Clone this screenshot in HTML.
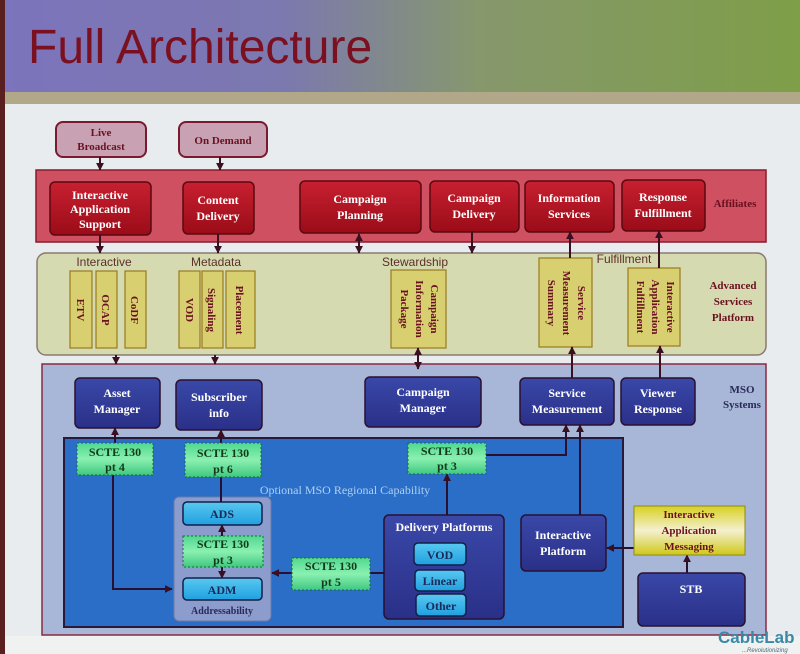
<!DOCTYPE html>
<html><head><meta charset="utf-8"><style>
html,body{margin:0;padding:0;width:800px;height:654px;overflow:hidden;background:#e6eaec}
svg{display:block}
.b{font-family:"Liberation Serif",serif;font-weight:bold;text-anchor:middle}
.s{font-family:"Liberation Sans",sans-serif}
</style></head><body>
<svg width="800" height="654" viewBox="0 0 800 654" xmlns="http://www.w3.org/2000/svg">
<defs>
<linearGradient id="tg" x1="0" x2="1"><stop offset="0" stop-color="#7c74bc"/><stop offset="0.35" stop-color="#7c78b0"/><stop offset="0.6" stop-color="#86986c"/><stop offset="1" stop-color="#7e9e48"/></linearGradient>
<linearGradient id="rb" x1="0" y1="0" x2="0" y2="1"><stop offset="0" stop-color="#c82030"/><stop offset="1" stop-color="#9a0c18"/></linearGradient>
<linearGradient id="bb" x1="0" y1="0" x2="0" y2="1"><stop offset="0" stop-color="#3a48a8"/><stop offset="1" stop-color="#2a3088"/></linearGradient>
<linearGradient id="gb" x1="0" y1="0" x2="0" y2="1"><stop offset="0" stop-color="#50d890"/><stop offset="0.5" stop-color="#8af0b0"/><stop offset="1" stop-color="#40c880"/></linearGradient>
<linearGradient id="cb" x1="0" y1="0" x2="0" y2="1"><stop offset="0" stop-color="#58c8f0"/><stop offset="1" stop-color="#20a0e0"/></linearGradient>
<linearGradient id="yb" x1="0" y1="0" x2="0" y2="1"><stop offset="0" stop-color="#d8d020"/><stop offset="0.5" stop-color="#f4f0d0"/><stop offset="1" stop-color="#d0c818"/></linearGradient>
<marker id="a" viewBox="0 0 10 10" refX="9" refY="5" markerWidth="4" markerHeight="4" orient="auto-start-reverse"><path d="M0,0L10,5L0,10z" fill="#3a1020"/></marker>
</defs>
<rect x="0" y="0" width="800" height="96" fill="url(#tg)"/>
<rect x="0" y="92" width="800" height="12" fill="#b0a888"/>
<rect x="0" y="0" width="5" height="654" fill="#5a2020"/>
<rect x="5" y="104" width="795" height="550" fill="#e8ecee"/>
<text x="28" y="63" class="s" font-size="48" fill="#7a1020">Full Architecture</text>

<rect x="56" y="122" width="90" height="35" rx="7" fill="#c8a2b2" stroke="#7a1a30" stroke-width="2"/>
<text class="b" font-size="11" fill="#6a1020"><tspan x="101" y="136">Live</tspan><tspan x="101" y="150">Broadcast</tspan></text>
<rect x="179" y="122" width="88" height="35" rx="7" fill="#c8a2b2" stroke="#7a1a30" stroke-width="2"/>
<text class="b" font-size="11" fill="#6a1020" x="223" y="144">On Demand</text>

<rect x="36" y="170" width="730" height="72" fill="#cf5060" stroke="#8a1a2a" stroke-width="1.5"/>
<g stroke="#5a0810" stroke-width="1.5" fill="url(#rb)">
<rect x="50" y="182" width="101" height="53" rx="5"/>
<rect x="183" y="182" width="71" height="52" rx="5"/>
<rect x="300" y="181" width="121" height="52" rx="5"/>
<rect x="430" y="181" width="89" height="51" rx="5"/>
<rect x="525" y="181" width="89" height="51" rx="5"/>
<rect x="622" y="180" width="83" height="51" rx="5"/>
</g>
<g class="b" font-size="12" fill="#fff">
<text><tspan x="100" y="199">Interactive</tspan><tspan x="100" y="213">Application</tspan><tspan x="100" y="228">Support</tspan></text>
<text><tspan x="218" y="204">Content</tspan><tspan x="218" y="220">Delivery</tspan></text>
<text><tspan x="360" y="203">Campaign</tspan><tspan x="360" y="219">Planning</tspan></text>
<text><tspan x="474" y="202">Campaign</tspan><tspan x="474" y="218">Delivery</tspan></text>
<text><tspan x="569" y="202">Information</tspan><tspan x="569" y="218">Services</tspan></text>
<text><tspan x="663" y="201">Response</tspan><tspan x="663" y="217">Fulfillment</tspan></text>
</g>
<text class="b" font-size="11" fill="#6a1020" x="735" y="207">Affiliates</text>

<rect x="37" y="253" width="729" height="102" rx="9" fill="#d6dab0" stroke="#8a7a70" stroke-width="1.5"/>
<g class="s" font-size="12" fill="#5a3028" text-anchor="middle">
<text x="104" y="266">Interactive</text><text x="216" y="266">Metadata</text>
<text x="415" y="266">Stewardship</text><text x="624" y="263">Fulfillment</text>
</g>
<g fill="#d8d070" stroke="#9a7a20" stroke-width="1.2">
<rect x="70" y="271" width="22" height="77"/><rect x="96" y="271" width="21" height="77"/><rect x="125" y="271" width="21" height="77"/>
<rect x="179" y="271" width="21" height="77"/><rect x="202" y="271" width="21" height="77"/><rect x="226" y="271" width="29" height="77"/>
<rect x="391" y="270" width="55" height="78"/><rect x="539" y="258" width="53" height="89"/><rect x="628" y="268" width="52" height="78"/>
</g>
<g class="b" font-size="11" fill="#6a1020">
<text transform="translate(81,310) rotate(90)" y="4">ETV</text>
<text transform="translate(106,310) rotate(90)" y="4">OCAP</text>
<text transform="translate(135,310) rotate(90)" y="4">CoDF</text>
<text transform="translate(190,310) rotate(90)" y="4">VOD</text>
<text transform="translate(212,310) rotate(90)" y="4">Signaling</text>
<text transform="translate(240,310) rotate(90)" y="4">Placement</text>
<text transform="translate(418,309) rotate(90)"><tspan x="0" y="-13">Campaign</tspan><tspan x="0" y="2">Information</tspan><tspan x="0" y="17">Package</tspan></text>
<text transform="translate(565,303) rotate(90)"><tspan x="0" y="-13">Service</tspan><tspan x="0" y="2">Measurement</tspan><tspan x="0" y="17">Summary</tspan></text>
<text transform="translate(654,307) rotate(90)"><tspan x="0" y="-13">Interactive</tspan><tspan x="0" y="2">Application</tspan><tspan x="0" y="17">Fulfillment</tspan></text>
</g>
<text class="b" font-size="11" fill="#6a1020"><tspan x="733" y="289">Advanced</tspan><tspan x="733" y="305">Services</tspan><tspan x="733" y="321">Platform</tspan></text>

<rect x="42" y="364" width="724" height="271" fill="#a8b6d8" stroke="#8a2a40" stroke-width="1.5"/>
<text class="b" font-size="11" fill="#2a2a5a"><tspan x="742" y="393">MSO</tspan><tspan x="742" y="408">Systems</tspan></text>
<rect x="64" y="438" width="559" height="189" fill="#2a6ec8" stroke="#2a1a3a" stroke-width="2"/>
<text x="345" y="494" font-family="Liberation Serif,serif" font-size="12" fill="#b0d0f0" text-anchor="middle">Optional MSO Regional Capability</text>

<g stroke="#2a1030" stroke-width="1.5" fill="url(#bb)">
<rect x="75" y="378" width="85" height="50" rx="5"/>
<rect x="176" y="380" width="86" height="50" rx="5"/>
<rect x="365" y="377" width="116" height="50" rx="5"/>
<rect x="520" y="378" width="94" height="47" rx="5"/>
<rect x="621" y="378" width="74" height="47" rx="5"/>
<rect x="384" y="515" width="120" height="104" rx="5"/>
<rect x="521" y="515" width="85" height="56" rx="5"/>
<rect x="638" y="573" width="107" height="53" rx="5"/>
</g>
<g class="b" font-size="12" fill="#fff">
<text><tspan x="117" y="397">Asset</tspan><tspan x="117" y="413">Manager</tspan></text>
<text><tspan x="219" y="401">Subscriber</tspan><tspan x="219" y="417">info</tspan></text>
<text><tspan x="423" y="396">Campaign</tspan><tspan x="423" y="412">Manager</tspan></text>
<text><tspan x="567" y="397">Service</tspan><tspan x="567" y="413">Measurement</tspan></text>
<text><tspan x="658" y="397">Viewer</tspan><tspan x="658" y="413">Response</tspan></text>
<text x="444" y="531">Delivery Platforms</text>
<text><tspan x="563" y="539">Interactive</tspan><tspan x="563" y="555">Platform</tspan></text>
<text x="691" y="593">STB</text>
</g>
<rect x="174" y="497" width="97" height="124" rx="5" fill="#8c9ccc" stroke="#6a7aa8"/>
<text class="b" font-size="10" fill="#2a2a5a" x="222" y="614">Addressability</text>

<g stroke="#2a1030" stroke-width="2" fill="none">
<line x1="115" y1="443" x2="115" y2="428" marker-end="url(#a)"/>
<polyline points="113,475 113,589 172,589" marker-end="url(#a)"/>
<line x1="221" y1="443" x2="221" y2="430" marker-end="url(#a)"/>
<line x1="221" y1="477" x2="221" y2="502"/>
<line x1="222" y1="536" x2="222" y2="525" marker-end="url(#a)"/>
<line x1="222" y1="567" x2="222" y2="578" marker-end="url(#a)"/>
<line x1="292" y1="573" x2="272" y2="573" marker-end="url(#a)"/>
<line x1="370" y1="573" x2="384" y2="573"/>
<line x1="447" y1="515" x2="447" y2="474" marker-end="url(#a)"/>
<polyline points="486,455 566,455 566,425" marker-end="url(#a)"/>
<line x1="580" y1="515" x2="580" y2="425" marker-end="url(#a)"/>
<line x1="634" y1="548" x2="607" y2="548" marker-end="url(#a)"/>
<line x1="687" y1="573" x2="687" y2="555" marker-end="url(#a)"/>
</g>

<g fill="url(#gb)" stroke="#1a6a3a" stroke-width="1" stroke-dasharray="2,2">
<rect x="77" y="443" width="76" height="32"/>
<rect x="185" y="443" width="76" height="34"/>
<rect x="408" y="443" width="78" height="31"/>
<rect x="183" y="536" width="80" height="31"/>
<rect x="292" y="558" width="78" height="32"/>
</g>
<g class="b" font-size="12" fill="#123a1a">
<text><tspan x="115" y="456">SCTE 130</tspan><tspan x="115" y="471">pt 4</tspan></text>
<text><tspan x="223" y="457">SCTE 130</tspan><tspan x="223" y="473">pt 6</tspan></text>
<text><tspan x="447" y="455">SCTE 130</tspan><tspan x="447" y="470">pt 3</tspan></text>
<text><tspan x="223" y="548">SCTE 130</tspan><tspan x="223" y="564">pt 3</tspan></text>
<text><tspan x="331" y="570">SCTE 130</tspan><tspan x="331" y="586">pt 5</tspan></text>
</g>

<g fill="url(#cb)" stroke="#10204a" stroke-width="1.5">
<rect x="183" y="502" width="79" height="23" rx="4"/>
<rect x="183" y="578" width="79" height="22" rx="4"/>
<rect x="414" y="543" width="52" height="22" rx="4"/>
<rect x="415" y="570" width="50" height="21" rx="4"/>
<rect x="416" y="594" width="50" height="22" rx="4"/>
</g>
<g class="b" font-size="12" fill="#1a2a5a">
<text x="222" y="518">ADS</text><text x="222" y="594">ADM</text>
<text x="440" y="559">VOD</text><text x="440" y="585">Linear</text><text x="441" y="610">Other</text>
</g>
<rect x="634" y="506" width="111" height="49" fill="url(#yb)" stroke="#8a8a20"/>
<text class="b" font-size="11" fill="#6a1020"><tspan x="689" y="518">Interactive</tspan><tspan x="689" y="534">Application</tspan><tspan x="689" y="550">Messaging</tspan></text>

<g stroke="#3a1020" stroke-width="2" fill="none">
<line x1="100" y1="157" x2="100" y2="170" marker-end="url(#a)"/>
<line x1="220" y1="157" x2="220" y2="170" marker-end="url(#a)"/>
<line x1="100" y1="235" x2="100" y2="253" marker-end="url(#a)"/>
<line x1="218" y1="234" x2="218" y2="253" marker-end="url(#a)"/>
<line x1="359" y1="234" x2="359" y2="253" marker-end="url(#a)" marker-start="url(#a)"/>
<line x1="472" y1="232" x2="472" y2="253" marker-end="url(#a)"/>
<line x1="570" y1="258" x2="570" y2="232" marker-end="url(#a)"/>
<line x1="659" y1="268" x2="659" y2="231" marker-end="url(#a)"/>
<line x1="116" y1="355" x2="116" y2="364" marker-end="url(#a)"/>
<line x1="215" y1="355" x2="215" y2="364" marker-end="url(#a)"/>
<line x1="418" y1="348" x2="418" y2="369" marker-end="url(#a)" marker-start="url(#a)"/>
<line x1="572" y1="378" x2="572" y2="347" marker-end="url(#a)"/>
<line x1="660" y1="378" x2="660" y2="346" marker-end="url(#a)"/>
</g>

<rect x="5" y="636" width="795" height="18" fill="#f0f2f2"/>
<text x="718" y="643" class="s" font-size="17" font-weight="bold" fill="#3a88a8">CableLab</text>
<text x="742" y="652" class="s" font-size="6" font-style="italic" fill="#4a6a7a">...Revolutionizing</text>
</svg>
</body></html>
